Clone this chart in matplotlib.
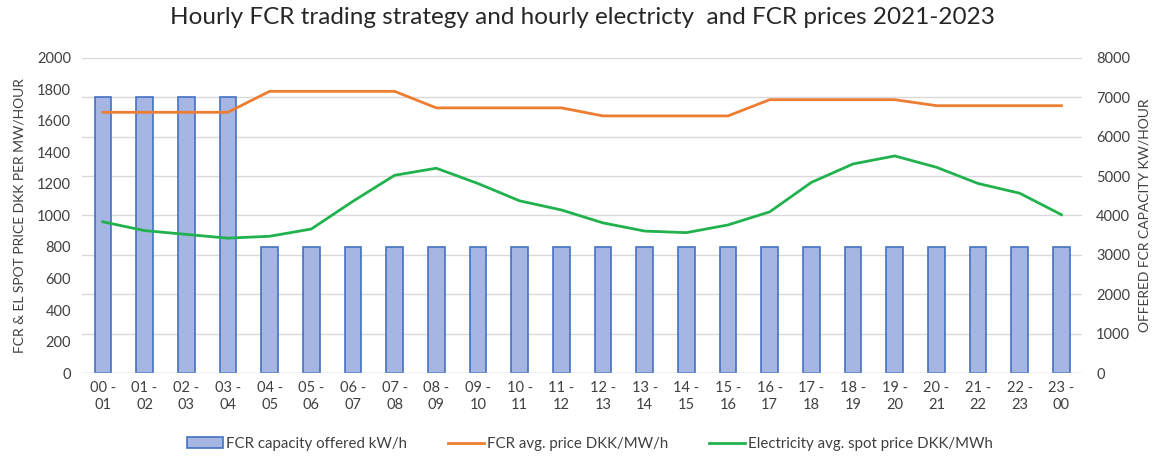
import matplotlib
matplotlib.use("Agg")
import matplotlib.pyplot as plt
import numpy as np

plt.rcParams['font.family'] = ['Lato', 'DejaVu Sans']

hours = [f"{h:02d} -\n{(h+1)%24:02d}" for h in range(24)]
fcr_capacity = [7000, 7000, 7000, 7000] + [3200] * 20
fcr_price = [1655]*4 + [1788]*4 + [1683]*4 + [1632]*4 + [1735]*4 + [1697]*4
el_price = [960, 904, 880, 856, 868, 914, 1090, 1255, 1300, 1203, 1093, 1035,
            953, 901, 891, 940, 1023, 1210, 1327, 1378, 1306, 1203, 1141, 1005]

fig = plt.figure(figsize=(11.65, 4.62), dpi=100)
ax = fig.add_axes([0.0704, 0.1926, 0.8586, 0.682])
ax2 = ax.twinx()
ax.set_zorder(ax2.get_zorder() + 1)
ax.patch.set_visible(False)

x = np.arange(len(hours))
bars = ax2.bar(x, fcr_capacity, width=0.4, color='#a6b6e2', edgecolor='#4472c4',
               linewidth=1.2, label='FCR capacity offered kW/h')
ax2.set_ylim(0, 8000)
ax2.set_yticks(np.arange(0, 8001, 1000))
ax2.set_axisbelow(True)
ax2.yaxis.grid(True, color='#d9d9d9', linewidth=1)

l1, = ax.plot(x, fcr_price, color='#ED7D31', linewidth=2, label='FCR avg. price DKK/MW/h')
l2, = ax.plot(x, el_price, color='#21b24e', linewidth=2, label='Electricity avg. spot price DKK/MWh')
ax.set_ylim(0, 2000)
ax.set_yticks(np.arange(0, 2001, 200))
ax.set_xlim(-0.5, 23.5)
ax.set_xticks(x)
ax.set_xticklabels(hours)

for a in (ax, ax2):
    for s in a.spines.values():
        s.set_visible(False)
    a.tick_params(length=0, labelsize=10.5, colors='#404040')
ax.tick_params(axis='x', pad=6)
ax.tick_params(axis='y', pad=8)
ax2.tick_params(axis='y', pad=10)
ax.axhline(0, color='#d9d9d9', linewidth=1, zorder=0)

ax.set_ylabel('FCR & EL SPOT PRICE DKK PER MW/HOUR', fontsize=10, color='#404040', labelpad=8)
ax2.set_ylabel('OFFERED FCR CAPACITY KW/HOUR', fontsize=10, color='#404040', labelpad=6)

fig.suptitle('Hourly FCR trading strategy and hourly electricty  and FCR prices 2021-2023',
             y=0.985, fontsize=17.5, color='#262626')

fig.legend(handles=[bars, l1, l2], loc='lower center', bbox_to_anchor=(0.5064, -0.005),
           ncol=3, frameon=False, fontsize=10.8, columnspacing=2.7, handlelength=2.4,
           handletextpad=0.2, labelcolor='#404040')

fig.savefig('out.png', dpi=100)
